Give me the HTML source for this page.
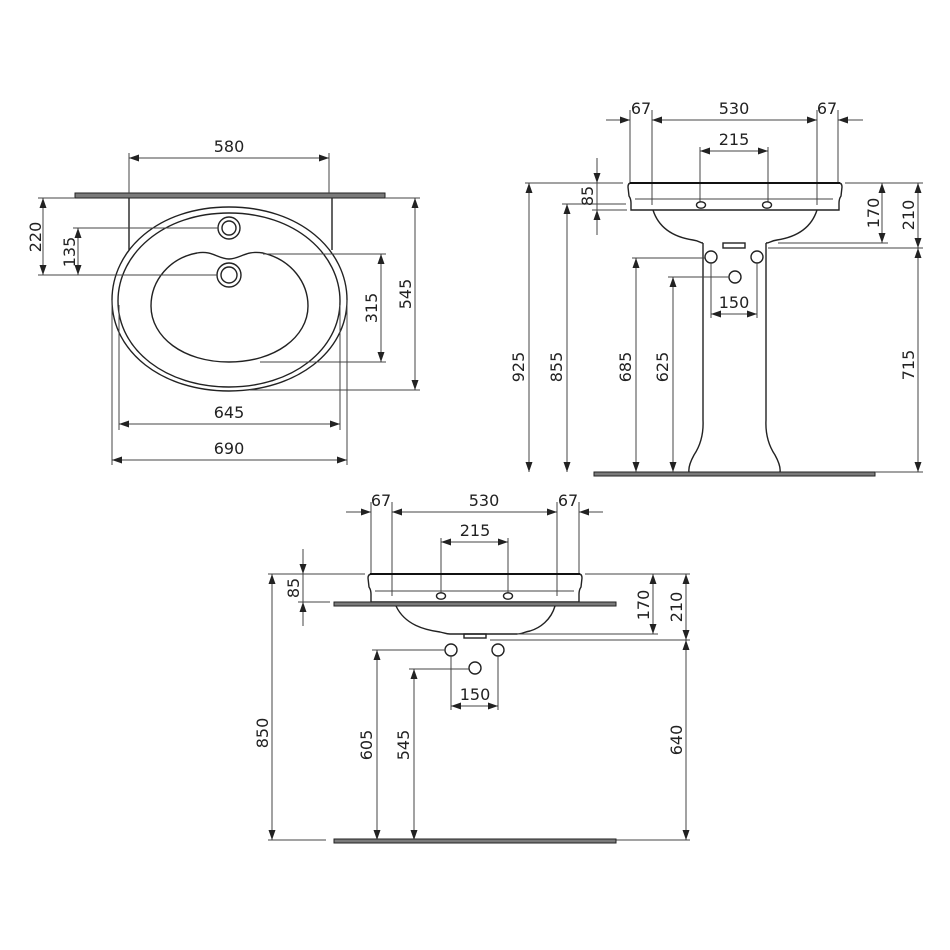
<!DOCTYPE html>
<html><head><meta charset="utf-8"><style>
html,body{margin:0;padding:0;background:#fff}
svg{display:block}
text{font-family:"DejaVu Sans","Liberation Sans",sans-serif;font-size:16px;fill:#222}
.o{fill:none;stroke:#222;stroke-width:1.4}
.d{fill:none;stroke:#444;stroke-width:1}
.a{fill:none;stroke:#444;stroke-width:1;marker-start:url(#m);marker-end:url(#m)}
.e{fill:none;stroke:#444;stroke-width:1;marker-end:url(#m)}
.bar{fill:#7a7a7a;stroke:#222;stroke-width:1}
</style></head><body>
<svg width="950" height="950" viewBox="0 0 950 950" xmlns="http://www.w3.org/2000/svg">
<defs><marker id="m" markerUnits="userSpaceOnUse" markerWidth="10" markerHeight="7" refX="10" refY="3.5" orient="auto-start-reverse"><path d="M0,0 L10,3.5 L0,7 z" fill="#222"/></marker></defs>

<!-- ===== VIEW 1 : top ===== -->
<rect class="bar" x="75" y="193" width="310" height="5"/>
<line class="d" x1="129" y1="153" x2="129" y2="193"/><line class="d" x1="329" y1="153" x2="329" y2="193"/>
<line class="a" x1="129" y1="158" x2="329" y2="158"/>
<text x="229" y="152" text-anchor="middle">580</text>
<line class="o" x1="129" y1="198" x2="129" y2="250"/><line class="o" x1="332" y1="198" x2="332" y2="250"/>
<path class="o" d="M229,207 C300,207 347,250 347,300 C347,352 296,391 229,391 C162,391 112,352 112,300 C112,250 158,207 229,207 Z"/>
<path class="o" d="M229,213 C295,213 340,254 340,301 C340,350 292,387 229,387 C166,387 118,350 118,301 C118,254 163,213 229,213 Z"/>
<path class="o" d="M197,253 C212,250 218,259 229,259 C240,259 246,250 263,253 C292,260 308,283 308,306 C308,337 275,362 229,362 C183,362 151,337 151,306 C151,280 170,258 197,253 Z"/>
<circle class="o" cx="229" cy="228" r="11"/><circle class="o" cx="229" cy="228" r="7"/>
<circle class="o" cx="229" cy="275" r="12"/><circle class="o" cx="229" cy="275" r="8"/>
<line class="d" x1="38" y1="198" x2="75" y2="198"/>
<line class="d" x1="38" y1="275" x2="217" y2="275"/>
<line class="a" x1="43" y1="198" x2="43" y2="275"/>
<text transform="translate(41,237) rotate(-90)" text-anchor="middle">220</text>
<line class="d" x1="73" y1="228" x2="218" y2="228"/>
<line class="a" x1="78" y1="228" x2="78" y2="275"/>
<text transform="translate(75,252) rotate(-90)" text-anchor="middle">135</text>
<line class="d" x1="263" y1="254" x2="386" y2="254"/><line class="d" x1="260" y1="362" x2="386" y2="362"/>
<line class="a" x1="381" y1="254" x2="381" y2="362"/>
<text transform="translate(377,308) rotate(-90)" text-anchor="middle">315</text>
<line class="d" x1="385" y1="198" x2="420" y2="198"/><line class="d" x1="250" y1="390" x2="420" y2="390"/>
<line class="a" x1="415" y1="198" x2="415" y2="390"/>
<text transform="translate(411,294) rotate(-90)" text-anchor="middle">545</text>
<line class="d" x1="119" y1="305" x2="119" y2="430"/><line class="d" x1="340" y1="305" x2="340" y2="430"/>
<line class="a" x1="119" y1="424" x2="340" y2="424"/>
<text x="229" y="418" text-anchor="middle">645</text>
<line class="d" x1="112" y1="300" x2="112" y2="465"/><line class="d" x1="347" y1="300" x2="347" y2="465"/>
<line class="a" x1="112" y1="460" x2="347" y2="460"/>
<text x="229" y="454" text-anchor="middle">690</text>

<!-- ===== VIEW 2 : pedestal front ===== -->
<line class="d" x1="630" y1="110" x2="630" y2="183"/><line class="d" x1="652" y1="110" x2="652" y2="205"/>
<line class="d" x1="817" y1="110" x2="817" y2="205"/><line class="d" x1="838" y1="110" x2="838" y2="183"/>
<line class="e" x1="606" y1="120" x2="630" y2="120"/>
<line class="a" x1="652" y1="120" x2="817" y2="120"/>
<line class="e" x1="863" y1="120" x2="838" y2="120"/>
<text x="641" y="114" text-anchor="middle">67</text><text x="734" y="114" text-anchor="middle">530</text><text x="827" y="114" text-anchor="middle">67</text>
<line class="d" x1="700" y1="147" x2="700" y2="202"/><line class="d" x1="768" y1="147" x2="768" y2="202"/>
<line class="a" x1="700" y1="151" x2="768" y2="151"/>
<text x="734" y="145" text-anchor="middle">215</text>
<path class="o" d="M631,183 L839,183 Q842,183 842,187 L841,196 Q839,199 839,203 L839,210 L631,210 L631,203 Q631,199 629,196 L628,187 Q628,183 631,183 Z"/>
<line x1="630" y1="183" x2="840" y2="183" stroke="#111" stroke-width="2"/>
<line class="d" x1="635" y1="199" x2="833" y2="199"/>
<ellipse class="o" cx="701" cy="205" rx="4.5" ry="3.2"/><ellipse class="o" cx="767" cy="205" rx="4.5" ry="3.2"/>
<path class="o" d="M653,210 C660,232 680,238 693,240 C700,241 700,243 703,243 M817,210 C810,232 790,238 777,240 C770,241 770,243 766,243"/>
<rect class="o" x="723" y="243" width="22" height="5"/>
<path class="o" d="M703,243 L703,420 Q704,440 694,455 Q688,466 689,472 M766,243 L766,420 Q765,440 775,455 Q781,466 780,472"/>
<rect class="bar" x="594" y="472" width="281" height="4"/>
<circle class="o" cx="711" cy="257" r="6"/><circle class="o" cx="757" cy="257" r="6"/><circle class="o" cx="735" cy="277" r="6"/>
<line class="d" x1="525" y1="183" x2="623" y2="183"/>
<line class="a" x1="529" y1="183" x2="529" y2="472"/>
<text transform="translate(524,367) rotate(-90)" text-anchor="middle">925</text>
<line class="d" x1="562" y1="204" x2="626" y2="204"/>
<line class="a" x1="567" y1="204" x2="567" y2="472"/>
<text transform="translate(562,367) rotate(-90)" text-anchor="middle">855</text>
<line class="d" x1="592" y1="210" x2="627" y2="210"/>
<line class="e" x1="597" y1="158" x2="597" y2="183"/><line class="d" x1="597" y1="183" x2="597" y2="210"/>
<line class="e" x1="597" y1="235" x2="597" y2="210"/>
<text transform="translate(593,196) rotate(-90)" text-anchor="middle">85</text>
<line class="d" x1="632" y1="258" x2="705" y2="258"/>
<line class="a" x1="636" y1="258" x2="636" y2="472"/>
<text transform="translate(631,367) rotate(-90)" text-anchor="middle">685</text>
<line class="d" x1="668" y1="277" x2="729" y2="277"/>
<line class="a" x1="673" y1="277" x2="673" y2="472"/>
<text transform="translate(668,367) rotate(-90)" text-anchor="middle">625</text>
<line class="d" x1="711" y1="263" x2="711" y2="318"/><line class="d" x1="757" y1="263" x2="757" y2="318"/>
<line class="a" x1="711" y1="314" x2="757" y2="314"/>
<text x="734" y="308" text-anchor="middle">150</text>
<line class="d" x1="845" y1="183" x2="923" y2="183"/>
<line class="d" x1="778" y1="243" x2="888" y2="243"/>
<line class="d" x1="768" y1="248" x2="923" y2="248"/>
<line class="d" x1="875" y1="472" x2="923" y2="472"/>
<line class="a" x1="882" y1="183" x2="882" y2="243"/>
<text transform="translate(879,213) rotate(-90)" text-anchor="middle">170</text>
<line class="a" x1="918" y1="183" x2="918" y2="248"/>
<text transform="translate(914,215) rotate(-90)" text-anchor="middle">210</text>
<line class="a" x1="918" y1="248" x2="918" y2="472"/>
<text transform="translate(914,365) rotate(-90)" text-anchor="middle">715</text>

<!-- ===== VIEW 3 : wall-hung front ===== -->
<line class="d" x1="371" y1="502" x2="371" y2="574"/><line class="d" x1="392" y1="502" x2="392" y2="596"/>
<line class="d" x1="557" y1="502" x2="557" y2="596"/><line class="d" x1="579" y1="502" x2="579" y2="574"/>
<line class="e" x1="346" y1="512" x2="371" y2="512"/>
<line class="a" x1="392" y1="512" x2="557" y2="512"/>
<line class="e" x1="603" y1="512" x2="579" y2="512"/>
<text x="381" y="506" text-anchor="middle">67</text><text x="484" y="506" text-anchor="middle">530</text><text x="568" y="506" text-anchor="middle">67</text>
<line class="d" x1="441" y1="538" x2="441" y2="593"/><line class="d" x1="508" y1="538" x2="508" y2="593"/>
<line class="a" x1="441" y1="542" x2="508" y2="542"/>
<text x="475" y="536" text-anchor="middle">215</text>
<path class="o" d="M372,574 L579,574 Q582,574 582,578 L581,587 Q579,590 579,594 L579,602 L371,602 L371,594 Q371,590 369,587 L368,578 Q368,574 372,574 Z"/>
<line x1="370" y1="574" x2="580" y2="574" stroke="#111" stroke-width="2"/>
<line class="d" x1="375" y1="591" x2="574" y2="591"/>
<ellipse class="o" cx="441" cy="596" rx="4.5" ry="3.2"/><ellipse class="o" cx="508" cy="596" rx="4.5" ry="3.2"/>
<rect class="bar" x="334" y="602" width="282" height="4"/>
<path class="o" d="M396,606 C405,625 425,630 440,632 C445,633 446,634 450,634 L517,634 C522,634 524,632 530,631 C540,628 551,620 555,606"/>
<rect class="o" x="464" y="634" width="22" height="4"/>
<circle class="o" cx="451" cy="650" r="6"/><circle class="o" cx="498" cy="650" r="6"/><circle class="o" cx="475" cy="668" r="6"/>
<line class="d" x1="268" y1="574" x2="365" y2="574"/>
<line class="a" x1="272" y1="574" x2="272" y2="840"/>
<text transform="translate(268,733) rotate(-90)" text-anchor="middle">850</text>
<line class="d" x1="298" y1="602" x2="330" y2="602"/>
<line class="e" x1="303" y1="549" x2="303" y2="574"/><line class="d" x1="303" y1="574" x2="303" y2="602"/>
<line class="e" x1="303" y1="626" x2="303" y2="602"/>
<text transform="translate(299,588) rotate(-90)" text-anchor="middle">85</text>
<line class="d" x1="372" y1="650" x2="445" y2="650"/>
<line class="a" x1="377" y1="650" x2="377" y2="840"/>
<text transform="translate(372,745) rotate(-90)" text-anchor="middle">605</text>
<line class="d" x1="409" y1="669" x2="469" y2="669"/>
<line class="a" x1="414" y1="669" x2="414" y2="840"/>
<text transform="translate(409,745) rotate(-90)" text-anchor="middle">545</text>
<line class="d" x1="451" y1="656" x2="451" y2="710"/><line class="d" x1="498" y1="656" x2="498" y2="710"/>
<line class="a" x1="451" y1="706" x2="498" y2="706"/>
<text x="475" y="700" text-anchor="middle">150</text>
<line class="d" x1="585" y1="574" x2="690" y2="574"/>
<line class="d" x1="517" y1="634" x2="658" y2="634"/>
<line class="d" x1="490" y1="640" x2="690" y2="640"/>
<line class="a" x1="653" y1="574" x2="653" y2="634"/>
<text transform="translate(649,605) rotate(-90)" text-anchor="middle">170</text>
<line class="a" x1="686" y1="574" x2="686" y2="640"/>
<text transform="translate(682,607) rotate(-90)" text-anchor="middle">210</text>
<line class="a" x1="686" y1="640" x2="686" y2="840"/>
<text transform="translate(682,740) rotate(-90)" text-anchor="middle">640</text>
<line class="d" x1="268" y1="840" x2="326" y2="840"/>
<line class="d" x1="616" y1="840" x2="690" y2="840"/>
<rect class="bar" x="334" y="839" width="282" height="4"/>
</svg>
</body></html>
